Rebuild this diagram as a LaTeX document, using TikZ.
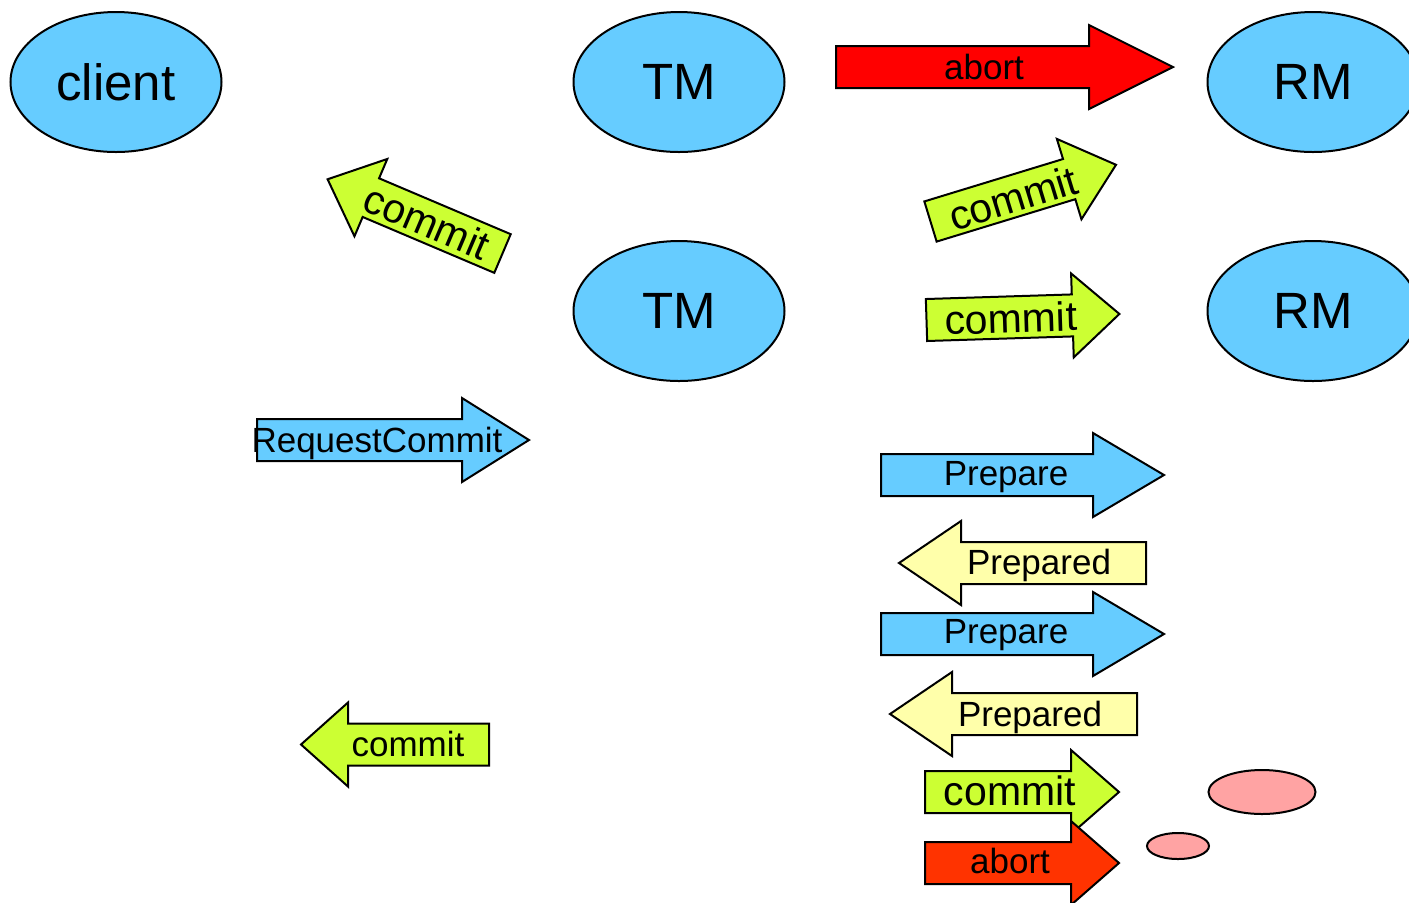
\documentclass[tikz,border=0pt]{standalone}
\usepackage{fontspec}
\setmainfont{Liberation Sans}
\usetikzlibrary{shapes.geometric}

\definecolor{skyfill}{HTML}{66CCFF}
\definecolor{limefill}{HTML}{CCFF33}
\definecolor{creamfill}{HTML}{FFFFAA}
\definecolor{redfill}{HTML}{FF0000}
\definecolor{orangefill}{HTML}{FF3300}
\definecolor{pinkfill}{HTML}{FFA3A3}

\tikzset{
  arrowbody/.style={draw=black, line width=1pt, line join=miter},
  party/.style={ellipse, draw=black, line width=1pt, fill=skyfill,
    minimum width=105.5pt, minimum height=70pt, inner sep=0pt,
    font=\fontsize{25.5}{30}\selectfont},
  blob/.style={ellipse, draw=black, line width=1pt, fill=pinkfill, inner sep=0pt},
  lbl/.style={inner sep=0pt, font=\fontsize{17.5}{21}\selectfont},
  biglbl/.style={inner sep=0pt, font=\fontsize{20.5}{24}\selectfont},
}

% block arrow: fill, tail centre, angle, length to tip, head length
\newcommand\blockarrow[5]{%
  \begin{scope}[shift={#2}, rotate=#3]
    \draw[arrowbody, fill=#1] (0,-21) -- ({#4-#5},-21) -- ({#4-#5},-42)
      -- (#4,0) -- ({#4-#5},42) -- ({#4-#5},21) -- (0,21) -- cycle;
  \end{scope}}

\begin{document}
\begin{tikzpicture}[x=0.5pt, y=-0.5pt]
  \useasboundingbox (0,0) rectangle (1409,902);

  % participants
  \node[party] (client) at (116,82) {client};
  \node[party] (tmA) at (679,82) {TM};
  \node[party] (rmA) at (1313,82) {RM};
  \node[party] (tmB) at (679,311) {TM};
  \node[party] (rmB) at (1313,311) {RM};

  % messages
  \blockarrow{redfill}{(836,67)}{0}{337}{84}
  \node[lbl, anchor=base] (abortA) at (984,79) {abort};

  \blockarrow{limefill}{(930.5,221.5)}{17}{194}{49}
  \node[biglbl, rotate=17] (commitA) at (1013,198) {commit};

  \blockarrow{limefill}{(926.5,320)}{1.8}{193}{47}
  \node[biglbl, rotate=1.8] (commitB) at (1011,318) {commit};

  \blockarrow{limefill}{(502.5,253.5)}{157}{190}{47}
  \node[biglbl, rotate=-23] (commitC) at (427,222) {commit};

  \blockarrow{skyfill}{(257,440)}{0}{272}{67}
  \node[lbl, anchor=base] (request) at (377,452) {RequestCommit};

  \blockarrow{skyfill}{(881,475)}{0}{283}{71}
  \node[lbl, anchor=base] (prepA) at (1006,485) {Prepare};

  \blockarrow{creamfill}{(1146,563)}{180}{247}{62}
  \node[lbl, anchor=base] (preparedA) at (1039,574) {Prepared};

  \blockarrow{skyfill}{(881,634)}{0}{283}{71}
  \node[lbl, anchor=base] (prepB) at (1006,643) {Prepare};

  \blockarrow{creamfill}{(1137,714)}{180}{247}{62}
  \node[lbl, anchor=base] (preparedB) at (1030,726) {Prepared};

  \blockarrow{limefill}{(925,792)}{0}{194}{48}
  \node[biglbl, anchor=base] (commitD) at (1010,805) {commit};

  \blockarrow{orangefill}{(925,863)}{0}{194}{48}
  \node[lbl, anchor=base] (abortB) at (1010,873) {abort};

  \blockarrow{limefill}{(489,744.5)}{180}{188}{47}
  \node[lbl, anchor=base] (commitE) at (408,756) {commit};

  % pink blobs
  \node[blob, minimum width=53.5pt, minimum height=22pt] (blobA) at (1262,792) {};
  \node[blob, minimum width=31pt, minimum height=13pt] (blobB) at (1178,846) {};
\end{tikzpicture}
\end{document}
